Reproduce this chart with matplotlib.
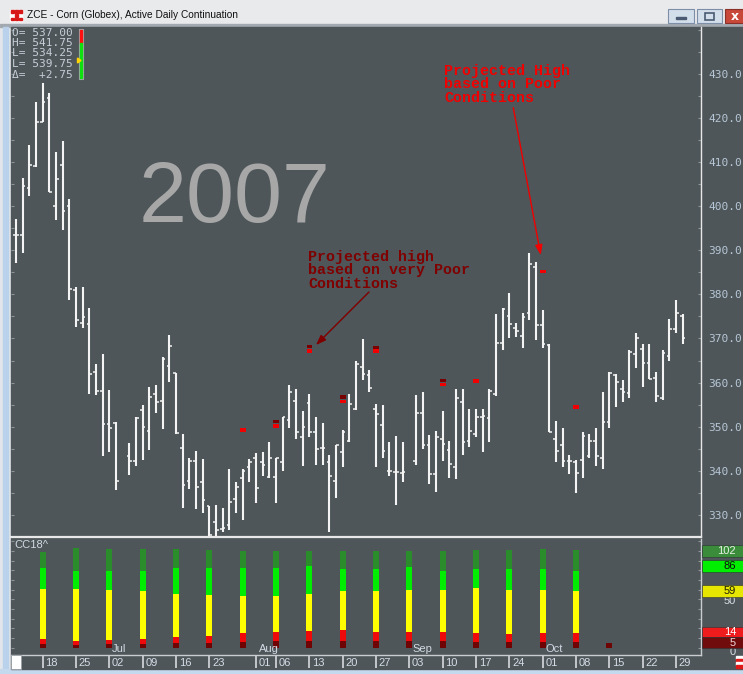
import numpy as np
import pandas as pd
import matplotlib
matplotlib.use("Agg")
import matplotlib.pyplot as plt
from matplotlib.patches import Rectangle, Polygon

W, H = 743, 674
BG = "#4e5659"

# daily bars Jun 12 - Oct 30 2007, exchange closed Jul 4 and Sep 3
first_day = "2007-06-12"
last_day = "2007-10-30"
holidays = ["2007-07-04", "2007-09-03"]

opens = [393.4, 393.4, 404.0, 409.0, 419.0, 424.5, 400.0, 409.4, 400.0, 381.0, 373.6, 373.2, 362.5, 358.1, 350.6, 350.9,
         343.4, 342.2, 353.7, 349.0, 357.5, 355.8, 363.8, 362.1, 345.1, 337.7, 342.3, 337.5, 332.1, 328.3, 326.8, 327.8,
         333.6, 338.3, 340.9, 342.8, 341.9, 338.5, 338.5, 341.9, 351.5, 355.8, 347.6, 355.3, 348.8, 345.1, 342.0, 337.7,
         344.2, 346.8, 354.0, 363.5, 361.7, 354.0, 350.3, 340.0, 339.8, 339.6,
         342.3, 353.0, 345.8, 339.3, 347.2, 344.8, 340.9, 355.5, 346.8, 348.3, 352.1, 351.9, 357.4, 369.0, 375.1, 372.4,
         370.5, 375.8, 386.2, 373.0, 368.5, 347.2, 345.8, 342.3, 342.0, 342.5, 343.4, 346.8, 343.0, 351.0, 361.7, 358.5,
         357.7, 366.5, 367.7, 364.5, 361.1, 356.4, 366.0, 372.1, 375.1]
highs = [397.1, 406.4, 413.9, 423.5, 428.0, 425.6, 412.3, 414.7, 401.6, 381.7, 381.7, 376.8, 364.3, 366.4, 358.3, 351.1,
         346.4, 352.1, 354.9, 359.1, 359.5, 365.7, 370.9, 362.1, 348.3, 343.0, 344.5, 342.6, 332.1, 332.3, 331.5, 340.4,
         337.5, 340.4, 342.6, 344.0, 344.3, 346.6, 343.0, 352.3, 359.4, 358.6, 353.6, 357.5, 352.3, 350.8, 343.6, 345.9,
         349.3, 357.4, 364.9, 369.8, 362.8, 355.1, 354.9, 346.6, 347.9, 346.6,
         357.1, 357.9, 348.1, 349.0, 353.6, 346.8, 358.6, 358.6, 354.1, 354.1, 354.1, 358.6, 375.5, 377.0, 380.4, 373.6,
         375.8, 389.4, 387.4, 376.4, 368.7, 351.3, 349.6, 343.6, 342.4, 348.8, 348.3, 349.6, 357.9, 362.4, 361.9, 360.5,
         367.4, 371.2, 368.7, 368.7, 362.4, 367.4, 374.3, 378.8, 375.5]
lows = [387.2, 389.3, 402.2, 408.9, 419.0, 403.2, 396.8, 394.5, 378.7, 372.7, 372.4, 357.5, 357.2, 343.4, 344.3, 335.7,
        339.1, 341.1, 342.5, 344.8, 353.2, 349.4, 360.1, 348.3, 331.5, 335.9, 331.3, 330.4, 325.3, 325.3, 326.2, 326.7,
        330.4, 328.8, 337.5, 332.8, 338.9, 338.3, 332.8, 340.0, 349.6, 347.3, 341.1, 347.6, 341.3, 341.3, 326.2, 333.8,
        340.8, 346.6, 353.8, 360.5, 357.9, 340.8, 342.8, 338.9, 332.2, 337.4,
        341.3, 344.9, 337.0, 335.3, 342.3, 338.3, 338.1, 343.6, 345.4, 347.6, 344.2, 346.6, 357.0, 367.4, 370.2, 370.3,
        367.9, 374.2, 369.6, 367.9, 348.7, 342.0, 340.8, 339.3, 334.9, 338.3, 343.0, 341.1, 340.5, 349.8, 354.5, 355.6,
        356.4, 363.4, 358.9, 360.9, 355.6, 356.1, 364.9, 371.2, 368.7]
closes = [393.4, 404.5, 409.4, 419.0, 423.5, 403.2, 406.2, 398.8, 381.3, 374.1, 374.9, 361.9, 358.1, 350.6, 349.8, 337.7,
          342.3, 351.9, 350.0, 356.8, 355.5, 365.3, 368.3, 348.5, 336.8, 342.3, 336.3, 333.4, 325.5, 326.7, 327.1, 333.0,
          336.4, 340.0, 342.1, 336.0, 341.3, 343.0, 342.9, 352.1, 357.9, 348.8, 350.0, 348.8, 344.9, 345.1, 338.9, 345.9,
          348.8, 355.1, 364.1, 361.9, 358.8, 352.8, 344.5, 339.9, 339.8, 339.8,
          353.2, 345.8, 339.3, 347.6, 346.0, 341.5, 356.6, 346.6, 349.0, 352.1, 352.4, 358.2, 369.0, 376.6, 373.3, 371.7,
          374.9, 386.8, 373.0, 368.7, 348.8, 344.5, 342.3, 342.3, 339.6, 347.9, 346.8, 343.4, 351.1, 362.1, 360.1, 357.9,
          366.9, 370.2, 364.5, 360.9, 357.0, 366.8, 372.1, 375.8, 370.2]

# weekly projected highs
vpoor_weeks = ["2007-08-06", "2007-08-13", "2007-08-20", "2007-08-27", "2007-09-10"]
vpoor_high = [351.2, 368.2, 356.7, 368.0, 360.5]
poor_weeks = ["2007-07-30", "2007-08-06", "2007-08-13", "2007-08-20", "2007-08-27",
              "2007-09-10", "2007-09-17", "2007-10-01", "2007-10-08"]
poor_high = [349.3, 350.2, 367.2, 355.7, 367.1, 359.6, 360.4, 385.2, 354.5]

# crop condition (CC18^), weekly
cond_weeks = ["2007-06-18", "2007-06-25", "2007-07-02", "2007-07-09", "2007-07-16", "2007-07-23",
              "2007-07-30", "2007-08-06", "2007-08-13", "2007-08-20", "2007-08-27", "2007-09-03",
              "2007-09-10", "2007-09-17", "2007-09-24", "2007-10-01", "2007-10-08", "2007-10-15"]
cc_vpoor = [3.4, 2.8, 3.4, 3.8, 4.8, 5.2, 5.9, 6.9, 6.9, 6.6, 6.6, 6.9, 6.6, 5.9, 5.9, 5.9, 5.9, 5.2]
cc_poor = [5.2, 4.4, 4.2, 4.8, 6.6, 7.2, 9.3, 9.3, 10.3, 12.0, 9.6, 9.3, 9.6, 9.3, 8.2, 9.3, 9.3, 0]
cc_fair = [52.1, 53.5, 52.1, 50.0, 44.1, 42.1, 38.2, 37.2, 38.3, 40.4, 42.4, 43.5, 43.5, 46.9, 45.6, 44.5, 43.4, 0]
cc_good = [21.7, 18.6, 19.6, 20.7, 26.9, 27.9, 29.0, 29.0, 28.6, 22.4, 22.8, 23.4, 20.0, 19.3, 21.7, 21.7, 21.1, 0]
cc_exc = [16.2, 23.5, 22.8, 22.4, 19.7, 18.6, 17.6, 17.9, 16.2, 18.9, 18.3, 16.9, 20.6, 19.6, 19.6, 20.7, 21.3, 0]
cc_colors = ["#6e0404", "#ee0a0a", "#ffff00", "#00ec00", "#2a8c2a"]

tick_days = ["2007-06-18", "2007-06-25", "2007-07-02", "2007-07-09", "2007-07-16", "2007-07-23",
             "2007-08-01", "2007-08-06", "2007-08-13", "2007-08-20", "2007-08-27", "2007-09-03",
             "2007-09-10", "2007-09-17", "2007-09-24", "2007-10-01", "2007-10-08", "2007-10-15",
             "2007-10-22", "2007-10-29"]
month_days = ["2007-07-02", "2007-08-01", "2007-09-03", "2007-10-01"]
month_names = ["Jul", "Aug", "Sep", "Oct"]

info_lines = ["O= 537.00", "H= 541.75", "L= 534.25", "L= 539.75", "\u0394=  +2.75"]


def xpos(d):
    d = pd.to_datetime(d)
    d = np.atleast_1d(np.asarray(d, dtype="datetime64[D]"))
    return np.busday_count(np.datetime64(first_day), d).astype(float)


def fx(px):
    return px / W


def fy(py):
    return 1 - py / H


fig = plt.figure(figsize=(W / 100, H / 100), dpi=100, facecolor="#e2e5e9")


def frect(x0, y0, x1, y1, z=1, **kw):
    r = Rectangle((fx(x0), fy(y1)), (x1 - x0) / W, (y1 - y0) / H,
                  transform=fig.transFigure, zorder=z, **kw)
    fig.patches.append(r)


# window chrome
frect(0, 0, W, 27, z=-3, color="#e9eaec")
frect(0, 24, W, 27, z=-3, color="#a3a9b0")
frect(3, 27, 8, 674, z=-3, color="#b9d1ea")
frect(0, 669, W, 674, z=-3, color="#c5d9ee")
frect(11, 27, W, 669, z=-2, color=BG)
# icon
frect(10, 10, 22, 21, z=2, color="white")
for i in range(3):
    for j in range(3):
        if (i + j) % 2 == 0 or i == 1:
            frect(10.5 + i * 4, 10.5 + j * 3.6, 13.5 + i * 4, 13.2 + j * 3.6, z=3, color="#d81818")
fig.text(fx(27), fy(15), "ZCE - Corn (Globex), Active Daily Continuation", fontsize=7.3,
         family="Liberation Sans", color="#101010", va="center")
# window buttons
frect(668, 9, 694, 23, z=2, facecolor="#d3deeb", edgecolor="#7d8ea6", lw=0.8)
frect(676, 17, 686, 19, z=3, color="#4a5a72")
frect(697, 9, 722, 23, z=2, facecolor="#d3deeb", edgecolor="#7d8ea6", lw=0.8)
frect(705, 12.5, 714, 19.5, z=3, facecolor="none", edgecolor="#4a5a72", lw=1.2)
frect(725, 9, 745, 23, z=2, facecolor="#c8483a", edgecolor="#8a3028", lw=0.8)
fig.text(fx(735), fy(16), "x", fontsize=9, weight="bold", color="white", ha="center", va="center")

# price panel
ax = fig.add_axes([fx(11), fy(537), fx(701) - fx(11), fy(27) - fy(537)])
ax.set_facecolor(BG)
days = pd.bdate_range(first_day, last_day)
days = days[~days.isin(pd.to_datetime(holidays))]
xd = xpos(days)
ax.vlines(xd, lows, highs, color="#f4f4f4", lw=1.5)
ax.hlines(opens, xd - 0.42, xd, color="#f4f4f4", lw=1.1)
ax.hlines(closes, xd, xd + 0.42, color="#f4f4f4", lw=1.1)
ax.bar(xpos(vpoor_weeks), 0.8, bottom=np.array(vpoor_high) - 0.4, width=0.85, color="#780000")
ax.bar(xpos(poor_weeks), 0.8, bottom=np.array(poor_high) - 0.4, width=0.85, color="#f00000")
ax.set_xlim(-0.75, 102.75)
ax.set_ylim(325.2, 440.6)
ax.set_yticks(np.arange(330, 431, 10))
ax.set_yticks(np.arange(325, 441, 5), minor=True)
ax.yaxis.set_major_formatter(matplotlib.ticker.FormatStrFormatter("%.1f"))
ax.tick_params(axis="y", which="both", direction="in", length=2.5, width=0.8, color="#8c9498",
               left=True, right=True, labelleft=False, labelright=True, pad=5,
               labelcolor="#b7c7d7", labelsize=8)
for lab in ax.get_yticklabels():
    lab.set_family("DejaVu Sans Mono")
ax.tick_params(axis="x", bottom=False, labelbottom=False)
for s in ["left", "top"]:
    ax.spines[s].set_visible(False)
ax.spines["right"].set_color("#e8e8e8")
ax.spines["right"].set_linewidth(1.0)
ax.spines["bottom"].set_color("#e8e8e8")
ax.spines["bottom"].set_linewidth(1.6)

# crop condition panel
cx = fig.add_axes([fx(11), fy(655), fx(701) - fx(11), fy(539) - fy(655)])
cx.set_facecolor(BG)
xw = xpos(cond_weeks)
base = np.zeros(len(cond_weeks))
for vals, col in zip([cc_vpoor, cc_poor, cc_fair, cc_good, cc_exc], cc_colors):
    cx.bar(xw, vals, bottom=base, width=0.9, color=col)
    base = base + np.array(vals)
cx.set_xlim(-0.75, 102.75)
cx.set_ylim((647.7 - 655) / 0.967, (647.7 - 539) / 0.967)
cx.set_yticks(np.arange(0, 111, 10))
cx.tick_params(axis="y", direction="in", length=2, width=0.8, color="#8c9498", left=True, right=True,
               labelleft=False, labelright=False)
cx.tick_params(axis="x", bottom=False, labelbottom=False)
for s in ["left", "top"]:
    cx.spines[s].set_visible(False)
for s in ["right", "bottom"]:
    cx.spines[s].set_color("#c9cdd0")
    cx.spines[s].set_linewidth(1.0)
for d, name in zip(month_days, month_names):
    cx.text(xpos(d)[0] + 0.4, -1.5, name, fontsize=8, family="Liberation Sans", color="#d2dae4",
            ha="left", va="center")
fig.text(fx(14), fy(545.5), "CC18^", fontsize=8, family="Liberation Sans", color="#d2dae4", va="center")

# date strip
dx = fig.add_axes([fx(11), fy(669), fx(701) - fx(11), fy(655) - fy(669)])
dx.set_xlim(-0.75, 102.75)
dx.set_ylim(0, 1)
dx.axis("off")
xt = xpos(tick_days)
dx.vlines(xt, 0.08, 0.92, color="#c4c8cc", lw=1.4)
for x, d in zip(xt, tick_days):
    dx.text(x + 0.4, 0.45, pd.to_datetime(d).strftime("%d"), fontsize=8, family="Liberation Sans",
            color="#d4dce6", ha="left", va="center")
frect(11, 655, 20.5, 669, z=2, facecolor="white", edgecolor="#9aa0a6", lw=0.6)
for k in range(4):
    frect(736, 656 + k * 3, 743, 659 + k * 3, z=2, color="white" if k % 2 == 0 else "#e01818")

# right-hand labels of the condition panel
fig.text(fx(736), fy(601), "50", fontsize=8, family="Liberation Sans", color="#d8dee6", ha="right", va="center")
fig.text(fx(736), fy(652), "0", fontsize=8, family="Liberation Sans", color="#d8dee6", ha="right", va="center")
boxes = [("102", 545, 557, "#3a8c3a", "#e6f0e6"),
         ("86", 560, 572, "#00ee00", "#101010"),
         ("59", 585, 597, "#e6e600", "#202000"),
         ("14", 627, 637, "#ee1c1c", "#ffffff"),
         ("5", 637, 648, "#700c0c", "#f0d8d8")]
for txt, y0, y1, fc, tc in boxes:
    frect(702, y0, 745, y1, z=4, facecolor=fc, edgecolor="#2c3234", lw=0.4)
    fig.text(fx(736), fy((y0 + y1) / 2), txt, fontsize=8, family="Liberation Sans", color=tc,
             ha="right", va="center", zorder=5)

# OHLC read-out and gauge
for k, s in enumerate(info_lines):
    fig.text(fx(12), fy([32.5, 43, 53.5, 64, 75][k]), s, fontsize=8, family="DejaVu Sans Mono",
             color="#c6ced8", va="center")
frect(78.5, 29, 83, 79, z=2, facecolor="none", edgecolor="#a4a8ac", lw=0.8)
frect(79.5, 30, 82, 43, z=3, color="#ff1010")
frect(79.5, 43, 82, 78, z=3, color="#10e010")
fig.patches.append(Polygon([(fx(77.5), fy(58)), (fx(81), fy(60.5)), (fx(77.5), fy(63))],
                           closed=True, transform=fig.transFigure, color="#ffd400", zorder=4))

# year and notes
fig.text(fx(139), fy(222), "2007", fontsize=62, family="Liberation Sans", color="#a7a7a7", va="baseline")
for k, s in enumerate(["Projected High", "based on Poor", "Conditions"]):
    fig.text(fx(444), fy(75.5 + 13 * k), s, fontsize=10.8, family="Liberation Mono", weight="bold",
             color="#f20000", va="baseline")
for k, s in enumerate(["Projected high", "based on very Poor", "Conditions"]):
    fig.text(fx(308.5), fy(260.5 + 13.5 * k), s, fontsize=10.8, family="Liberation Mono", weight="bold",
             color="#800000", va="baseline")
ax.annotate("", xy=(540.7, H - 255), xytext=(513.3, H - 107.7), xycoords="figure pixels",
            textcoords="figure pixels",
            arrowprops=dict(arrowstyle="-|>,head_length=0.6,head_width=0.22", color="#f00000", lw=1,
                            shrinkA=0, shrinkB=0))
ax.annotate("", xy=(316, H - 345), xytext=(369, H - 292), xycoords="figure pixels",
            textcoords="figure pixels",
            arrowprops=dict(arrowstyle="-|>,head_length=0.6,head_width=0.22", color="#800000", lw=1,
                            shrinkA=0, shrinkB=0))

fig.savefig("out.png", dpi=100, facecolor=fig.get_facecolor())
